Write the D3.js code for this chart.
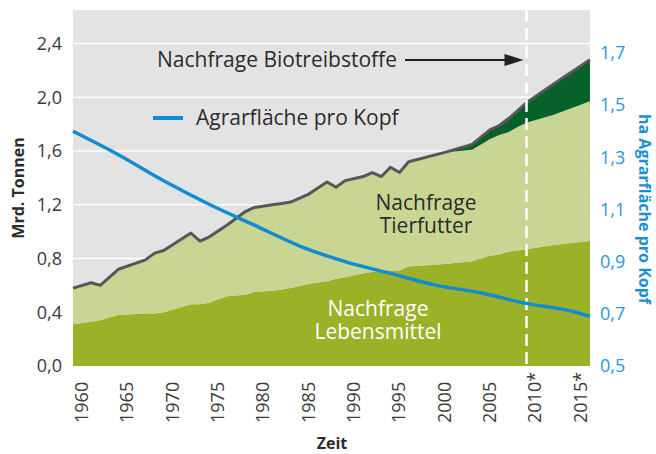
<!DOCTYPE html>
<html>
<head>
<meta charset="utf-8">
<script src="https://cdn.jsdelivr.net/npm/d3@7"></script>
<style>
  body { margin: 0; background: #ffffff; }
  svg { display: block; }
</style>
</head>
<body>
<svg id="svgContainer" width="656" height="454"></svg>
<script>
// Data
const years = [1960, 1962, 1963, 1965, 1968, 1969, 1970, 1973, 1974, 1975, 1977, 1979, 1980, 1982, 1983, 1984, 1986, 1988,
               1989, 1990, 1992, 1993, 1994, 1995, 1996, 1997, 2001, 2004, 2006, 2007, 2008, 2009, 2010, 2013, 2017];
const food = [0.31, 0.33, 0.34, 0.38, 0.39, 0.39, 0.40, 0.46, 0.46, 0.47, 0.52, 0.53, 0.55, 0.56, 0.57, 0.58, 0.61, 0.63,
              0.65, 0.66, 0.69, 0.70, 0.70, 0.71, 0.71, 0.74, 0.76, 0.78, 0.82, 0.83, 0.85, 0.86, 0.87, 0.90, 0.93];
const feed = [0.27, 0.29, 0.26, 0.34, 0.40, 0.45, 0.46, 0.53, 0.47, 0.49, 0.53, 0.62, 0.63, 0.64, 0.64, 0.64, 0.67, 0.74,
              0.68, 0.72, 0.72, 0.74, 0.71, 0.77, 0.73, 0.78, 0.83, 0.83, 0.87, 0.89, 0.89, 0.92, 0.94, 0.97, 1.04];
const biofuel = [0, 0, 0, 0, 0, 0, 0, 0, 0, 0, 0, 0, 0, 0, 0, 0, 0, 0,
                 0, 0, 0, 0, 0, 0, 0, 0, 0, 0.04, 0.07, 0.07, 0.10, 0.12, 0.15, 0.23, 0.31];

const landYears = [1960, 1965, 1970, 1975, 1980, 1985, 1990, 1995, 2000, 2005, 2010, 2015, 2017];
const landPerHead = [1.40, 1.31, 1.21, 1.12, 1.04, 0.96, 0.90, 0.855, 0.81, 0.78, 0.74, 0.71, 0.69];

const tickYears = [1960, 1965, 1970, 1975, 1980, 1985, 1990, 1995, 2000, 2005, 2010, 2015];
const tickLabels = ["1960", "1965", "1970", "1975", "1980", "1985", "1990", "1995", "2000", "2005", "2010*", "2015*"];
const leftTicks = [0, 0.4, 0.8, 1.2, 1.6, 2.0, 2.4];
const rightTicks = [0.5, 0.7, 0.9, 1.1, 1.3, 1.5, 1.7];

const svg = d3.select("#svgContainer");
const font = "'Open Sans', 'DejaVu Sans', sans-serif";

// plot box
const plotLeft = 73, plotRight = 590, plotTop = 10, plotBottom = 366;

const x = d3.scaleLinear().domain([1960, 2017]).range([plotLeft, plotRight]);
const yLeft = d3.scaleLinear().domain([0, 2.65]).range([plotBottom, plotTop]);
const yRight = d3.scaleLinear().domain([0.5, 1.7]).range([plotBottom, 53]);

const fmt = d => d.toFixed(1).replace(".", ",");

// grey background
svg.append("rect")
    .attr("x", plotLeft)
    .attr("y", plotTop)
    .attr("width", plotRight - plotLeft)
    .attr("height", plotBottom - plotTop)
    .attr("fill", "#e3e3e3");

// white gridlines
svg.selectAll("line.grid")
    .data(leftTicks.slice(1))
    .enter()
    .append("line")
    .attr("class", "grid")
    .attr("x1", plotLeft)
    .attr("x2", plotRight)
    .attr("y1", d => yLeft(d))
    .attr("y2", d => yLeft(d))
    .attr("stroke", "#ffffff")
    .attr("stroke-width", 1.5);

// stacked areas
const rows = years.map((yr, i) => ({ year: yr, food: food[i], feed: feed[i], bio: biofuel[i] }));
const stack = d3.stack().keys(["food", "feed", "bio"]);
const layers = stack(rows);
const colors = { food: "#9bb127", feed: "#c9d593", bio: "#07622a" };

const area = d3.area()
    .x(d => x(d.data.year))
    .y0(d => yLeft(d[0]))
    .y1(d => yLeft(d[1]));

svg.selectAll("path.layer")
    .data(layers)
    .enter()
    .append("path")
    .attr("class", "layer")
    .attr("d", area)
    .attr("fill", d => colors[d.key]);

// outline on top of the stack
const totalLine = d3.line()
    .x(d => x(d.data.year))
    .y(d => yLeft(d[1]));

svg.append("path")
    .datum(layers[2])
    .attr("d", totalLine)
    .attr("fill", "none")
    .attr("stroke", "#575757")
    .attr("stroke-width", 3)
    .attr("stroke-linejoin", "round");

// dashed marker at 2010
svg.append("line")
    .attr("x1", x(2010))
    .attr("x2", x(2010))
    .attr("y1", plotTop)
    .attr("y2", plotBottom)
    .attr("stroke", "#ffffff")
    .attr("stroke-width", 2.5)
    .attr("stroke-dasharray", "12,6");

// land per head (right axis)
const landLine = d3.line()
    .x((d, i) => x(landYears[i]))
    .y(d => yRight(d))
    .curve(d3.curveMonotoneX);

svg.append("path")
    .datum(landPerHead)
    .attr("d", landLine)
    .attr("fill", "none")
    .attr("stroke", "#128bd3")
    .attr("stroke-width", 3.5);

// left axis
const gLeft = svg.append("g")
    .attr("transform", `translate(${plotLeft},0)`)
    .call(d3.axisLeft(yLeft).tickValues(leftTicks).tickFormat(fmt).tickSize(0).tickPadding(11));
gLeft.select(".domain").remove();
gLeft.selectAll("text")
    .attr("font-size", "18px")
    .attr("font-family", font)
    .attr("fill", "#3a3a3a");

// right axis
const gRight = svg.append("g")
    .attr("transform", `translate(${plotRight},0)`)
    .call(d3.axisRight(yRight).tickValues(rightTicks).tickFormat(fmt).tickSize(0).tickPadding(10));
gRight.select(".domain").remove();
gRight.selectAll("text")
    .attr("font-size", "18px")
    .attr("font-family", font)
    .attr("fill", "#2a97d8");

// bottom axis, labels turned upright
const gBottom = svg.append("g")
    .attr("transform", `translate(0,${plotBottom})`)
    .call(d3.axisBottom(x).tickValues(tickYears).tickFormat((d, i) => tickLabels[i]).tickSize(0));
gBottom.select(".domain").remove();
gBottom.selectAll("text")
    .attr("transform", "rotate(-90)")
    .attr("text-anchor", "start")
    .attr("x", -57)
    .attr("y", 8)
    .attr("dy", "0.35em")
    .attr("font-size", "18px")
    .attr("font-family", font)
    .attr("fill", "#3a3a3a");

// axis titles
svg.append("text")
    .attr("transform", "translate(24,188) rotate(-90)")
    .attr("text-anchor", "middle")
    .attr("font-size", "16px")
    .attr("font-weight", "bold")
    .attr("font-family", font)
    .attr("fill", "#2b2b2b")
    .text("Mrd. Tonnen");

svg.append("text")
    .attr("transform", "translate(639,209) rotate(90)")
    .attr("text-anchor", "middle")
    .attr("font-size", "16px")
    .attr("font-weight", "bold")
    .attr("font-family", font)
    .attr("fill", "#1a8fd6")
    .text("ha Agrarfläche pro Kopf");

svg.append("text")
    .attr("x", 332)
    .attr("y", 449)
    .attr("text-anchor", "middle")
    .attr("font-size", "16px")
    .attr("font-weight", "bold")
    .attr("font-family", font)
    .attr("fill", "#2b2b2b")
    .text("Zeit");

// LABEL: Nachfrage Biotreibstoffe + arrow
svg.append("text")
    .attr("x", 157)
    .attr("y", 67)
    .attr("font-size", "21px")
    .attr("font-family", font)
    .attr("fill", "#2b2b2b")
    .text("Nachfrage Biotreibstoffe");

svg.append("line")
    .attr("x1", 405)
    .attr("x2", x(2010) - 20)
    .attr("y1", 60)
    .attr("y2", 60)
    .attr("stroke", "#222222")
    .attr("stroke-width", 2);

svg.append("path")
    .attr("d", `M${x(2010) - 22},54 L${x(2010) - 3},60 L${x(2010) - 22},66 Z`)
    .attr("fill", "#222222");

// legend: Agrarfläche pro Kopf
svg.append("line")
    .attr("x1", 153)
    .attr("x2", 183)
    .attr("y1", 118)
    .attr("y2", 118)
    .attr("stroke", "#128bd3")
    .attr("stroke-width", 4);

svg.append("text")
    .attr("x", 196)
    .attr("y", 125)
    .attr("font-size", "21px")
    .attr("font-family", font)
    .attr("fill", "#2b2b2b")
    .text("Agrarfläche pro Kopf");

// two-line area labels, one text each
function twoLines(cx, y, lines, color) {
    const t = svg.append("text")
        .attr("x", cx)
        .attr("y", y)
        .attr("text-anchor", "middle")
        .attr("font-size", "21px")
        .attr("font-family", font)
        .attr("fill", color);
    lines.forEach((s, i) => {
        t.append("tspan")
            .attr("x", cx)
            .attr("dy", i ? 23 : 0)
            .text(s);
    });
}

// LABEL: Tierfutter
twoLines(426, 210, ["Nachfrage", "Tierfutter"], "#2b2b2b");

// LABEL: Lebensmittel
twoLines(378, 316, ["Nachfrage", "Lebensmittel"], "#ffffff");
</script>
</body>
</html>
